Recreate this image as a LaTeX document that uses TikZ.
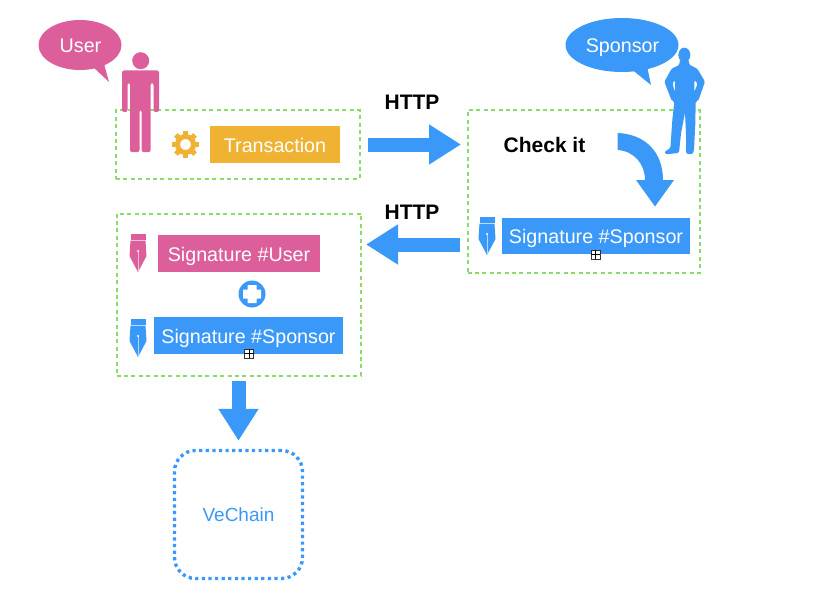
\documentclass[tikz,border=0pt]{standalone}
\usepackage{fontspec}
\setmainfont{Liberation Sans}
\usetikzlibrary{arrows.meta,positioning}
\definecolor{userpink}{HTML}{DC5E9B}
\definecolor{chainblue}{HTML}{3A98F8}
\definecolor{txorange}{HTML}{EFB233}
\definecolor{framegreen}{HTML}{8ADC66}
\tikzset{
  frame/.style={draw=framegreen,line width=2pt,dash pattern=on 4pt off 3.4pt,inner sep=0pt,outer sep=0pt,anchor=north west},
  tag/.style={text=white,font=\fontsize{19.7}{20}\selectfont,inner sep=0pt,outer sep=0pt,text height=20pt,text depth=5pt},
  caption/.style={font=\fontsize{21}{21}\selectfont\bfseries},
  bigarrow/.style={draw=chainblue,line width=14pt,-{Triangle[length=32pt,width=38pt]}},
  marker/.style={draw=black!80,fill=white,line width=.6pt,minimum size=9pt,inner sep=0pt}
}
\newcommand{\penicon}[3]{% x, y of the top centre, colour
  \begin{scope}[shift={(#1,#2)}]
    \fill[#3] (-7.5,0) rectangle (7.5,5.5);
    \fill[#3] (-7.5,6.5) -- (7.5,6.5) -- (8.5,22) -- (0,38) -- (-8.5,22) -- cycle;
    \draw[white!60!#3,line width=.5pt] (0,17) -- (0,37);
    \fill[white] (0,17) circle[radius=1.2];
  \end{scope}}
\begin{document}
\begin{tikzpicture}[x=1pt,y=-1pt]
  \useasboundingbox (0,0) rectangle (820,594);

  % frames
  \node[frame,minimum width=244pt,minimum height=68pt] (txframe) at (116,110.5) {};
  \node[frame,minimum width=232.5pt,minimum height=162pt] (checkframe) at (467.5,110.5) {};
  \node[frame,minimum width=244.5pt,minimum height=162pt] (sigframe) at (116.5,213.5) {};

  % user
  \fill[userpink] (80,45) ellipse[x radius=41.5,y radius=25];
  \fill[userpink] (92,66) -- (109,82) -- (103,60) -- cycle;
  \node[tag] (userlabel) at (80.5,45) {User};
  \fill[userpink] (140.7,60.7) circle[radius=8.5];
  \fill[userpink,rounded corners=2pt] (127.5,83) -- (127.5,112) -- (122,112) -- (122,70.5) -- (159,70.5)
    -- (159,112) -- (153.5,112) -- (153.5,83) -- (150.7,83) -- (150.7,152) -- (141.5,152)
    -- (141.5,110) -- (139.5,110) -- (139.5,152) -- (130,152) -- (130,83) -- cycle;

  % gear
  \foreach \a in {0,45,...,315}
    \fill[txorange,rotate around={\a:(185.5,144.5)}] (183,131) rectangle (188,138);
  \draw[txorange,line width=5pt] (185.5,144.5) circle[radius=8];

  \node[tag,fill=txorange,minimum width=130pt,minimum height=37pt,anchor=north west] (txbox) at (210,126) {Transaction};

  % sponsor
  \fill[chainblue] (622,45) ellipse[x radius=56.5,y radius=27];
  \fill[chainblue] (630,68) -- (651,85) -- (647,66) -- cycle;
  \node[tag] (sponsorlabel) at (622.5,45) {Sponsor};
  \begin{scope}[shift={(655,40)},scale=1/3]
    \fill[chainblue] (88,45) ellipse[x radius=18,y radius=22];
    \fill[chainblue,even odd rule,rounded corners=1.5pt] (74,60) -- (74,74) -- (50,86) -- (28,125) -- (50,182) -- (58,184)
      -- (52,240) -- (46,325) -- (28,335) -- (31,343) -- (72,339) -- (78,280) -- (90,218) -- (93,280)
      -- (93,341) -- (113,343) -- (117,330) -- (121,250) -- (122,184) -- (130,182) -- (150,125)
      -- (127,86) -- (102,74) -- (102,60) -- cycle
      (60,120) -- (52,130) -- (60,156) -- cycle
      (118,120) -- (128,130) -- (118,156) -- cycle;
  \end{scope}

  % check it
  \node[caption] (checklabel) at (544.5,145) {Check it};
  \fill[chainblue] (617.5,133) .. controls (645,134) and (663,152) .. (663,180) -- (674,180) -- (655,206.5)
    -- (636,180) -- (645,180) .. controls (645,164) and (634,151) .. (617.5,150) -- cycle;

  % signatures
  \node[tag,fill=chainblue,minimum width=188pt,minimum height=36pt,anchor=north west] (checksig) at (502,218) {Signature \#Sponsor};
  \penicon{487}{217}{chainblue}
  \node[marker] (checkmark) at (595.5,254.5) {};
  \draw[line width=.6pt] (checkmark.west) -- (checkmark.east) (checkmark.north) -- (checkmark.south);

  \node[tag,fill=userpink,minimum width=162pt,minimum height=37pt,anchor=north west] (usersig) at (158,235) {Signature \#User};
  \penicon{138}{234}{userpink}

  \node[circle,fill=chainblue,minimum size=27pt,inner sep=0pt] (plus) at (252,294) {};
  \fill[white] (247.5,285) rectangle (256.5,303) (243,289.5) rectangle (261,298.5);

  \node[tag,fill=chainblue,minimum width=189pt,minimum height=37pt,anchor=north west] (bothsig) at (154,317) {Signature \#Sponsor};
  \penicon{138}{319}{chainblue}
  \node[marker] (bothmark) at (249,353.5) {};
  \draw[line width=.6pt] (bothmark.west) -- (bothmark.east) (bothmark.north) -- (bothmark.south);

  % vechain
  \node[draw=chainblue,line width=3.4pt,dash pattern=on 3.2pt off 3.4pt,rounded corners=21pt,
    minimum width=128pt,minimum height=128pt,text=chainblue,font=\fontsize{19}{19}\selectfont] (vechain) at (238.5,514.5) {VeChain};

  %connections
  \draw[bigarrow,shorten <=8pt,shorten >=6.5pt] (txframe.east) -- (txframe.east -| checkframe.west);
  \node[caption] (httpa) at (412,102) {HTTP};
  \draw[bigarrow,shorten <=8pt,shorten >=5pt] ([yshift=-53pt]checkframe.west) -- ([yshift=50pt]sigframe.east);
  \node[caption] (httpb) at (412,212) {HTTP};
  \draw[bigarrow,shorten <=5pt,shorten >=8pt] (sigframe.south -| vechain.north) -- (vechain.north);
\end{tikzpicture}
\end{document}
